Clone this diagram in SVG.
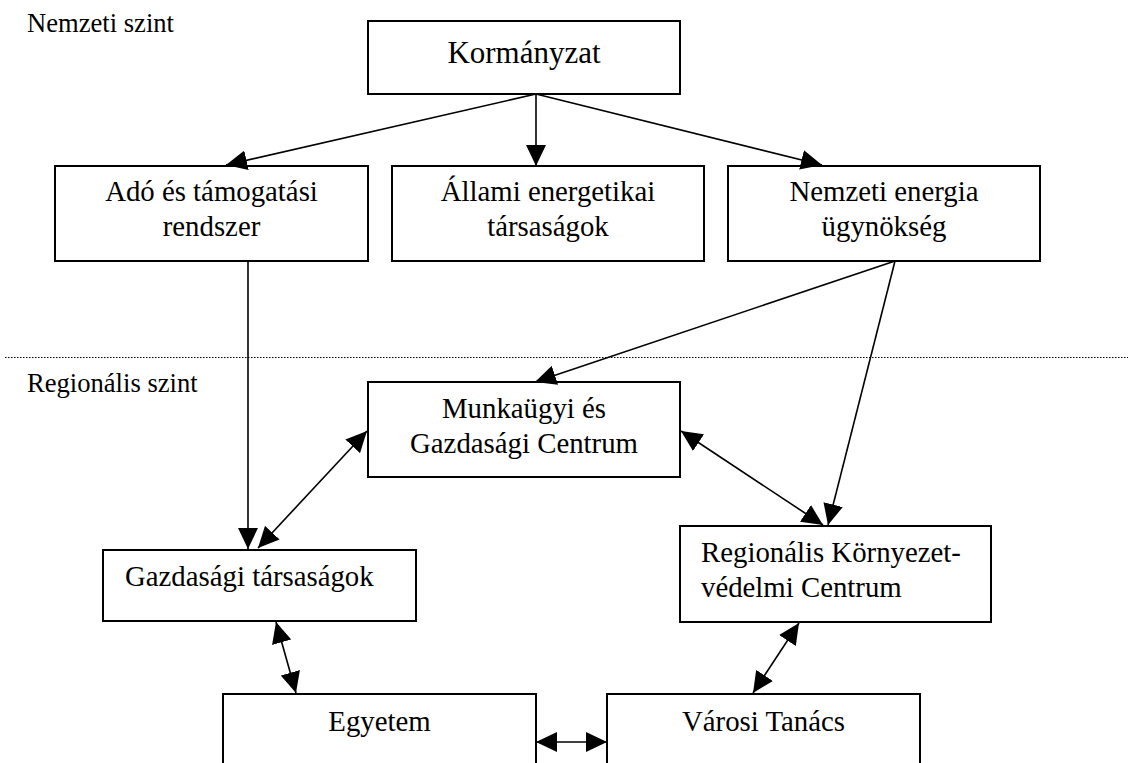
<svg xmlns="http://www.w3.org/2000/svg" width="1131" height="763" viewBox="0 0 1131 763">
<style>
.box{fill:#fff;stroke:#000;stroke-width:2}
.t{font-family:"Liberation Serif","Times New Roman",serif;font-size:28.8px;fill:#000}
.c{text-anchor:middle}
.lbl{font-family:"Liberation Serif","Times New Roman",serif;font-size:26.6px;fill:#000}
.ln{stroke:#000;stroke-width:1.6;fill:none}
</style>
<defs>
<marker id="ah" markerUnits="userSpaceOnUse" markerWidth="21" markerHeight="20" viewBox="0 0 20 19" refX="20" refY="9.5" orient="auto-start-reverse">
<path d="M0,0 L20,9.5 L0,19 z" fill="#000"/>
</marker>
</defs>
<rect width="1131" height="763" fill="#fff"/>
<text class="lbl" x="27" y="32">Nemzeti szint</text>
<text class="lbl" x="27" y="392">Regionális szint</text>
<line x1="5" y1="357.5" x2="1128" y2="357.5" stroke="#000" stroke-width="1" stroke-dasharray="1.5 1.5"/>
<g id="kormanyzat">
<rect class="box" x="368" y="21" width="312" height="73"/>
<text class="t c" x="524" y="63" style="font-size:31px">Kormányzat</text>
</g>
<g id="ado">
<rect class="box" x="55" y="166" width="313" height="95"/>
<text class="t c" x="211.5" y="201">Adó és támogatási</text>
<text class="t c" x="211.5" y="236">rendszer</text>
</g>
<g id="allami">
<rect class="box" x="392" y="166" width="312" height="95"/>
<text class="t c" x="548" y="201">Állami energetikai</text>
<text class="t c" x="548" y="236">társaságok</text>
</g>
<g id="nemzeti">
<rect class="box" x="728" y="166" width="312" height="95"/>
<text class="t c" x="884" y="201">Nemzeti energia</text>
<text class="t c" x="884" y="236">ügynökség</text>
</g>
<g id="munkaugyi">
<rect class="box" x="368" y="382" width="312" height="95"/>
<text class="t c" x="524" y="418">Munkaügyi és</text>
<text class="t c" x="524" y="453">Gazdasági Centrum</text>
</g>
<g id="gazdasagi">
<rect class="box" x="103" y="550" width="313" height="71"/>
<text class="t" x="125" y="586">Gazdasági társaságok</text>
</g>
<g id="regionalis">
<rect class="box" x="680" y="526" width="311" height="96"/>
<text class="t" x="701" y="562">Regionális Környezet-</text>
<text class="t" x="701" y="597">védelmi Centrum</text>
</g>
<g id="egyetem">
<rect class="box" x="223" y="694" width="313" height="90"/>
<text class="t c" x="379.5" y="731">Egyetem</text>
</g>
<g id="varosi">
<rect class="box" x="607" y="694" width="313" height="90"/>
<text class="t c" x="763.5" y="731">Városi Tanács</text>
</g>
<g id="connectors" class="ln">
<line x1="536" y1="94" x2="226" y2="165" marker-end="url(#ah)"/>
<line x1="536" y1="94" x2="536" y2="166" marker-end="url(#ah)"/>
<line x1="536" y1="94" x2="822" y2="165" marker-end="url(#ah)"/>
<line x1="248" y1="261" x2="248" y2="549" marker-end="url(#ah)"/>
<line x1="258" y1="548" x2="367" y2="431" marker-start="url(#ah)" marker-end="url(#ah)"/>
<line x1="895" y1="261" x2="535" y2="382" marker-end="url(#ah)"/>
<line x1="895" y1="261" x2="828" y2="525" marker-end="url(#ah)"/>
<line x1="681" y1="431" x2="823" y2="525" marker-start="url(#ah)" marker-end="url(#ah)"/>
<line x1="276" y1="622" x2="296" y2="693" marker-start="url(#ah)" marker-end="url(#ah)"/>
<line x1="799" y1="623" x2="753" y2="693" marker-start="url(#ah)" marker-end="url(#ah)"/>
<line x1="536" y1="742" x2="607" y2="742" marker-start="url(#ah)" marker-end="url(#ah)"/>
</g>
</svg>
